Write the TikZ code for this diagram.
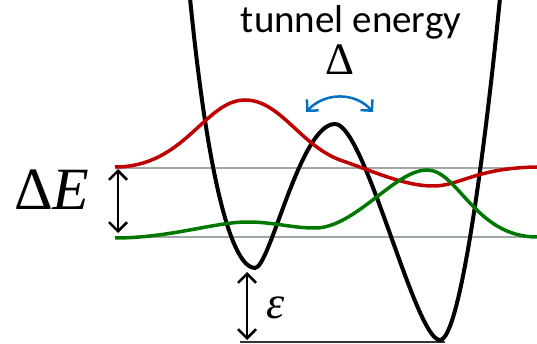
\documentclass[tikz,border=0pt]{standalone}
\usepackage{fontspec}
\newfontfamily\calibri{Carlito}
\newfontfamily\timesf{Liberation Serif}
\usetikzlibrary{arrows.meta}
\definecolor{wred}{RGB}{192,0,0}
\definecolor{wgreen}{RGB}{0,120,0}
\definecolor{lvl}{RGB}{160,170,165}
\definecolor{arcblue}{RGB}{0,112,192}
\tikzset{
  potential/.style={line width=4pt, black},
  wave/.style={line width=3.5pt},
  level/.style={line width=2pt, lvl},
  dimarrow/.style={line width=2.5pt, {Straight Barb[length=9pt,width=18pt,line width=2.5pt]}-{Straight Barb[length=9pt,width=18pt,line width=2.5pt]}},
  lbl/.style={inner sep=0pt}
}
\begin{document}
\begin{tikzpicture}[x=1pt,y=-1pt]
\useasboundingbox (0,0) rectangle (537,344);
% energy levels
\coordinate (l1a) at (115,168); \coordinate (l1b) at (537,168);
\coordinate (l2a) at (115,237); \coordinate (l2b) at (537,237);
\draw[level] (l1a) -- (l1b);
\draw[level] (l2a) -- (l2b);
% baseline
\coordinate (b1) at (240,342); \coordinate (b2) at (445,342);
\draw[line width=2pt, black!80] (b1) -- (b2);
% potential
\draw[potential] (190,-2) .. controls (210,200) and (235,268) .. (255,268)
  .. controls (270,268) and (300,124) .. (335,124)
  .. controls (365,124) and (415,340) .. (440,340)
  .. controls (460,340) and (485,150) .. (500,-2);
% red wave
\draw[wave, wred] (115,167) .. controls (185,167) and (205,100) .. (245,100)
  .. controls (280,100) and (300,145) .. (340,160)
  .. controls (375,172) and (405,186) .. (433,186)
  .. controls (460,186) and (475,168) .. (537,167);
% green wave
\draw[wave, wgreen] (115,238) .. controls (170,238) and (215,222) .. (247,222)
  .. controls (275,222) and (290,228) .. (315,228)
  .. controls (355,228) and (395,170) .. (427,170)
  .. controls (458,170) and (475,237) .. (537,237);
% Delta E arrow
\coordinate (de1) at (118,169); \coordinate (de2) at (118,233);
\draw[dimarrow] (de1) -- (de2);
\node[lbl] (dE) at (52,190) {\timesf\fontsize{60}{62}\selectfont Δ\kern-1pt\textit{E}};
% epsilon arrow
\coordinate (ep1) at (247,272); \coordinate (ep2) at (247,340);
\draw[dimarrow] (ep1) -- (ep2);
\node[lbl] (eps) at (276,308) {\timesf\itshape\fontsize{46}{48}\selectfont ε};
% tunnel arrow
\coordinate (t1) at (306,112); \coordinate (t2) at (373,112);
\draw[arcblue, line width=2.5pt, {Straight Barb[length=8pt,width=16pt,line width=2.5pt]}-{Straight Barb[length=8pt,width=16pt,line width=2.5pt]}] (t1) .. controls (325,92) and (355,92) .. (t2);
\node[lbl] (delta) at (340,60) {\timesf\fontsize{45}{47}\selectfont Δ};
\node[lbl] (tun) at (351,22) {\calibri\fontsize{39}{41}\selectfont tunnel energy};
\end{tikzpicture}
\end{document}
